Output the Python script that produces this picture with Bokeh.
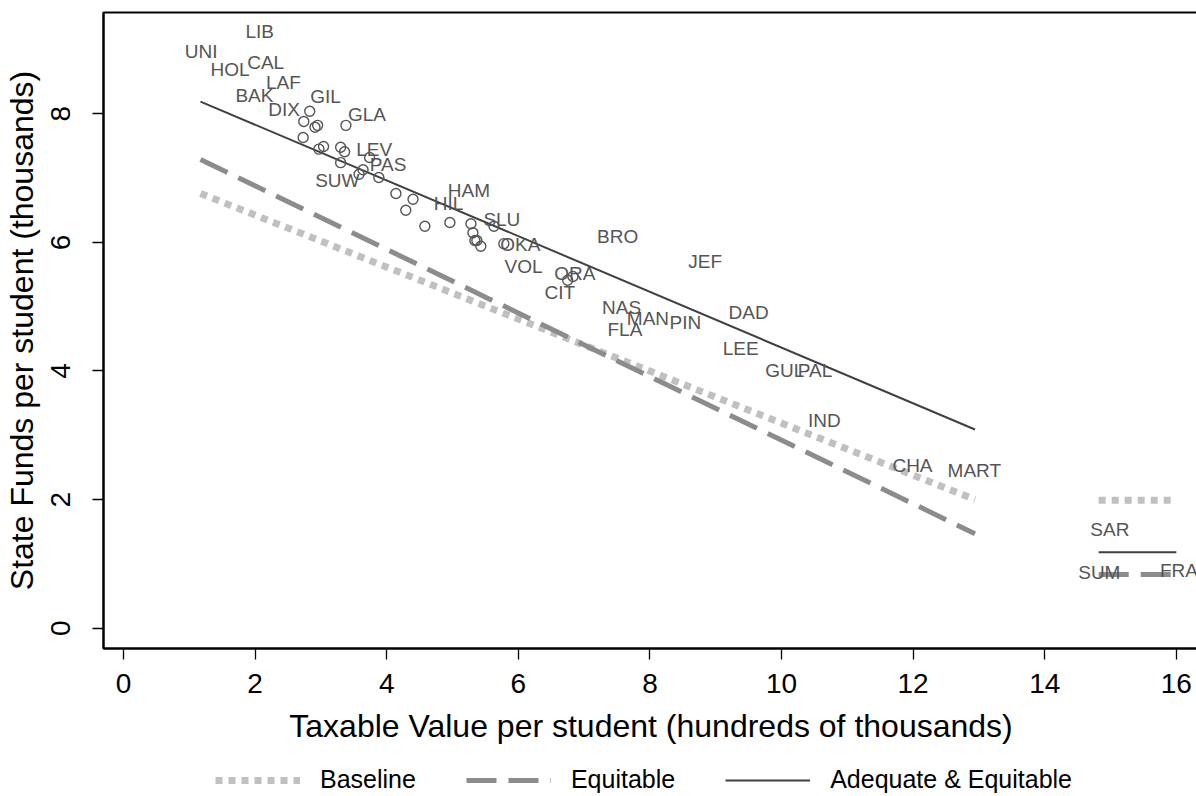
import numpy as np
from bokeh.plotting import figure
from bokeh.layouts import column
from bokeh.models import Range1d, FixedTicker, Legend, LegendItem, ColumnDataSource
from bokeh.core.properties import value
from bokeh.embed import file_html
from bokeh.resources import INLINE

# ---- data ----
county_labels = ["LIB", "UNI", "HOL", "CAL", "LAF", "BAK", "GIL", "DIX", "GLA", "LEV",
                 "PAS", "SUW", "HAM", "HIL", "SLU", "OKA", "VOL", "BRO", "ORA", "CIT",
                 "NAS", "FLA", "MAN", "JEF", "PIN", "DAD", "LEE", "GUL", "PAL", "IND",
                 "CHA", "MART", "SAR", "SUM", "FRA"]
label_x = [2.07, 1.18, 1.62, 2.16, 2.43, 1.99, 3.07, 2.44, 3.70, 3.81,
           4.02, 3.25, 5.25, 4.94, 5.75, 6.03, 6.08, 7.51, 6.86, 6.63,
           7.57, 7.62, 7.97, 8.84, 8.54, 9.50, 9.38, 10.05, 10.51, 10.65,
           11.99, 12.93, 14.99, 14.83, 16.04]
label_y = [9.28, 8.97, 8.69, 8.80, 8.48, 8.29, 8.27, 8.07, 7.99, 7.45,
           7.21, 6.96, 6.81, 6.60, 6.35, 5.96, 5.63, 6.09, 5.51, 5.22,
           4.98, 4.64, 4.81, 5.71, 4.76, 4.91, 4.35, 4.00, 4.00, 3.23,
           2.53, 2.45, 1.53, 0.86, 0.90]

point_x = [2.83, 2.74, 2.91, 2.95, 2.73, 3.38, 3.04, 2.97, 3.30, 3.36,
           3.30, 3.74, 3.64, 3.58, 3.88, 4.14, 4.40, 4.29, 4.58, 4.96,
           5.28, 5.31, 5.34, 5.37, 5.43, 5.63, 5.78, 6.75, 6.83]
point_y = [8.04, 7.88, 7.79, 7.82, 7.63, 7.82, 7.49, 7.45, 7.48, 7.41,
           7.24, 7.32, 7.13, 7.06, 7.01, 6.76, 6.67, 6.50, 6.25, 6.31,
           6.29, 6.15, 6.03, 6.03, 5.94, 6.25, 5.98, 5.41, 5.47]

line_x = [1.17, 12.94]
baseline_y = [6.76, 2.00]
equitable_y = [7.29, 1.47]
adequate_y = [8.19, 3.09]

side_x = [14.82, 16.0]
side_baseline_y = [1.99, 1.99]
side_equitable_y = [0.835, 0.835]
side_adequate_y = [1.18, 1.18]

x_ticks = [0, 2, 4, 6, 8, 10, 12, 14, 16]
y_ticks = [0, 2, 4, 6, 8]
legend_labels = ["Baseline", "Equitable", "Adequate & Equitable"]

FONT = "Liberation Sans"
C_BASE = "#c0c0c0"
C_EQ = "#8c8c8c"
C_AD = "#404040"
C_TXT = "#555555"

BASE_STYLE = dict(line_color=C_BASE, line_width=7, line_dash="7 6", line_cap="butt")
EQ_STYLE = dict(line_color=C_EQ, line_width=5, line_dash="30 12", line_cap="butt")
AD_STYLE = dict(line_color=C_AD, line_width=2)

p = figure(output_backend="svg", toolbar_location=None,
           frame_width=1095, frame_height=636,
           x_range=Range1d(-0.304, 16.337), y_range=Range1d(-0.316, 9.575),
           min_border_left=92, min_border_right=1, min_border_top=12, min_border_bottom=104)
p.xgrid.visible = False
p.ygrid.visible = False
p.outline_line_color = "black"
p.outline_line_width = 2
p.background_fill_color = "white"
p.border_fill_color = "white"

p.line(line_x, baseline_y, **BASE_STYLE)
p.line(line_x, equitable_y, **EQ_STYLE)
p.line(line_x, adequate_y, **AD_STYLE)

p.line(side_x, side_baseline_y, **BASE_STYLE)
p.line(side_x, side_equitable_y, **EQ_STYLE)
p.line(side_x, side_adequate_y, **AD_STYLE)

p.scatter(point_x, point_y, marker="circle", size=10, fill_color=None, line_color=C_TXT, line_width=1.4)

src = ColumnDataSource(dict(x=label_x, y=label_y, t=county_labels))
p.text(x="x", y="y", text="t", source=src, text_font=value(FONT), text_font_size="19px",
       text_color=C_TXT, text_align="center", text_baseline="middle")

for ax in (p.xaxis[0], p.yaxis[0]):
    ax.axis_line_color = "black"
    ax.axis_line_width = 2
    ax.major_tick_line_color = "black"
    ax.major_tick_line_width = 1.3
    ax.major_tick_in = 0
    ax.major_tick_out = 11
    ax.minor_tick_line_color = None
    ax.major_label_text_font = FONT
    ax.major_label_text_font_size = "28px"
    ax.major_label_text_color = "black"
    ax.axis_label_text_font = FONT
    ax.axis_label_text_font_size = "32px"
    ax.axis_label_text_font_style = "normal"
    ax.axis_label_text_color = "black"

p.xaxis.ticker = FixedTicker(ticks=x_ticks)
p.yaxis.ticker = FixedTicker(ticks=y_ticks)
p.xaxis.axis_label = "Taxable Value per student (hundreds of thousands)"
p.yaxis.axis_label = "State Funds per student (thousands)"
p.yaxis.major_label_orientation = "vertical"
p.xaxis.major_label_standoff = 14
p.yaxis.major_label_standoff = 22
p.xaxis.axis_label_standoff = 12
p.yaxis.axis_label_standoff = 9

# legend strip below the chart (its lines lie outside its own view; only the key shows)
pl = figure(width=1188, height=42, output_backend="svg", toolbar_location=None,
            x_range=Range1d(100, 101), y_range=Range1d(100, 101),
            x_axis_type=None, y_axis_type=None, min_border=0)
pl.xgrid.visible = False
pl.ygrid.visible = False
pl.outline_line_color = None
pl.background_fill_color = "white"
pl.border_fill_color = "white"
lr_base = pl.line(line_x, baseline_y, **BASE_STYLE)
lr_eq = pl.line(line_x, equitable_y, **EQ_STYLE)
lr_ad = pl.line(line_x, adequate_y, **AD_STYLE)

legend = Legend(items=[LegendItem(label=legend_labels[0], renderers=[lr_base]),
                       LegendItem(label=legend_labels[1], renderers=[lr_eq]),
                       LegendItem(label=legend_labels[2], renderers=[lr_ad])],
                orientation="horizontal", location=(112, 0),
                glyph_width=85, glyph_height=20, label_standoff=20, spacing=50,
                label_text_font=FONT, label_text_font_size="25px", label_text_color="black",
                border_line_alpha=0, background_fill_alpha=0, padding=0, margin=0)
pl.add_layout(legend, "center")

layout = column(p, pl, spacing=0)
open("out.html", "w").write(file_html(layout, INLINE))
